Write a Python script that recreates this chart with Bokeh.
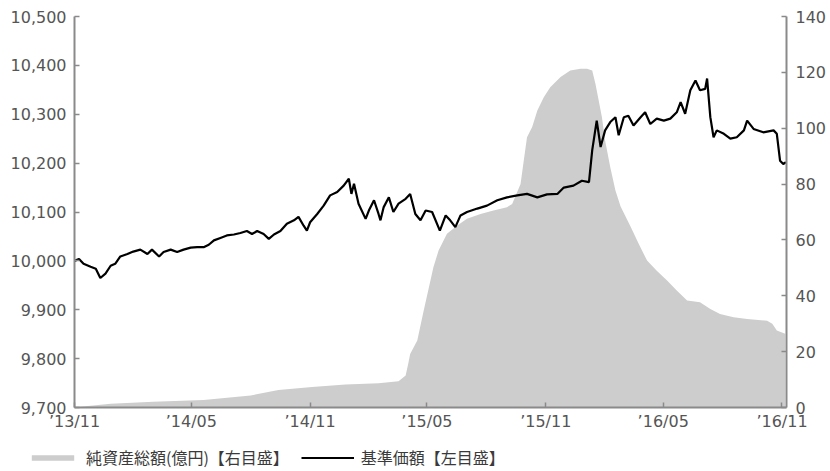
import pandas as pd
from bokeh.plotting import figure
from bokeh.models import (Range1d, LinearAxis, FixedTicker, Legend, LegendItem,
                          NumeralTickFormatter)
from bokeh.embed import file_html
from bokeh.resources import INLINE

# 基準価額 (left axis)
nav_dates = [
    "2013-11-01", "2013-11-08", "2013-11-15", "2013-11-26", "2013-12-04", "2013-12-11",
    "2013-12-19", "2013-12-27", "2014-01-03", "2014-01-11", "2014-01-22", "2014-01-31",
    "2014-02-11", "2014-02-22", "2014-03-01", "2014-03-12", "2014-03-19", "2014-03-30",
    "2014-04-09", "2014-04-19", "2014-04-30", "2014-05-10", "2014-05-20", "2014-05-28",
    "2014-06-05", "2014-06-15", "2014-06-25", "2014-07-06", "2014-07-16", "2014-07-26",
    "2014-08-03", "2014-08-11", "2014-08-21", "2014-08-29", "2014-09-06", "2014-09-16",
    "2014-09-26", "2014-10-07", "2014-10-14", "2014-10-22", "2014-10-27", "2014-11-01",
    "2014-11-12", "2014-11-22", "2014-12-02", "2014-12-13", "2014-12-23", "2014-12-31",
    "2015-01-04", "2015-01-08", "2015-01-15", "2015-01-26", "2015-01-31", "2015-02-08",
    "2015-02-15", "2015-02-18", "2015-02-23", "2015-03-03", "2015-03-10", "2015-03-18",
    "2015-03-29", "2015-04-05", "2015-04-13", "2015-04-21", "2015-04-29", "2015-05-09",
    "2015-05-21", "2015-05-30", "2015-06-06", "2015-06-14", "2015-06-22", "2015-07-02",
    "2015-07-18", "2015-08-02", "2015-08-18", "2015-09-02", "2015-09-18", "2015-10-03",
    "2015-10-19", "2015-11-03", "2015-11-19", "2015-11-29", "2015-12-14", "2015-12-27",
    "2016-01-07", "2016-01-12", "2016-01-19", "2016-01-25", "2016-02-01", "2016-02-09",
    "2016-02-17", "2016-02-22", "2016-03-01", "2016-03-08", "2016-03-16", "2016-03-27",
    "2016-04-03", "2016-04-11", "2016-04-21", "2016-05-02", "2016-05-12", "2016-05-22",
    "2016-05-28", "2016-06-04", "2016-06-12", "2016-06-20", "2016-06-27", "2016-07-05",
    "2016-07-08", "2016-07-13", "2016-07-18", "2016-07-23", "2016-08-03", "2016-08-13",
    "2016-08-23", "2016-09-03", "2016-09-08", "2016-09-18", "2016-10-03", "2016-10-19",
    "2016-10-24", "2016-10-29", "2016-11-03", "2016-11-07",
]
nav_values = [
    10000, 10004, 9994, 9988, 9984, 9965,
    9974, 9990, 9994, 10009, 10014, 10019,
    10023, 10014, 10023, 10009, 10018, 10023,
    10018, 10023, 10027, 10028, 10028, 10033,
    10042, 10047, 10052, 10054, 10057, 10061,
    10055, 10061, 10055, 10045, 10054, 10061,
    10076, 10083, 10090, 10072, 10062, 10079,
    10096, 10113, 10134, 10141, 10154, 10168,
    10137, 10158, 10117, 10086, 10103, 10124,
    10096, 10083, 10110, 10130, 10100, 10117,
    10127, 10137, 10096, 10083, 10103, 10100,
    10062, 10093, 10083, 10069, 10093, 10100,
    10107, 10113, 10124, 10130, 10134, 10137,
    10130, 10136, 10137, 10150, 10154, 10164,
    10161, 10226, 10287, 10233, 10267, 10284,
    10294, 10257, 10294, 10297, 10277, 10294,
    10304, 10280, 10291, 10287, 10291, 10304,
    10325, 10301, 10349, 10369, 10349, 10352,
    10373, 10294, 10253, 10267, 10260, 10250,
    10253, 10267, 10287, 10270, 10263, 10267,
    10260, 10205, 10198, 10202,
]

# 純資産総額(億円) (right axis)
aum_dates = [
    "2013-11-01", "2013-11-10", "2013-12-27", "2014-03-03", "2014-05-20", "2014-08-01",
    "2014-09-13", "2014-11-04", "2014-12-26", "2015-02-15", "2015-03-18", "2015-03-29",
    "2015-04-02", "2015-04-05", "2015-04-16", "2015-04-26", "2015-05-04", "2015-05-11",
    "2015-05-19", "2015-06-01", "2015-06-17", "2015-07-02", "2015-07-23", "2015-08-12",
    "2015-09-02", "2015-09-10", "2015-09-23", "2015-09-28", "2015-10-03", "2015-10-11",
    "2015-10-19", "2015-10-29", "2015-11-08", "2015-11-24", "2015-12-09", "2015-12-25",
    "2016-01-04", "2016-01-12", "2016-01-17", "2016-01-22", "2016-01-27", "2016-02-01",
    "2016-02-09", "2016-02-17", "2016-02-25", "2016-03-11", "2016-03-24", "2016-04-06",
    "2016-04-21", "2016-05-07", "2016-05-22", "2016-06-07", "2016-06-27", "2016-07-13",
    "2016-07-28", "2016-08-18", "2016-09-08", "2016-10-09", "2016-10-17", "2016-10-24",
    "2016-11-06",
]
aum_values = [
    0.0, 0.3, 1.3, 2.1, 2.7, 4.3,
    6.3, 7.3, 8.2, 8.7, 9.4, 11.5,
    15.7, 19.2, 24.0, 34.7, 43.0, 50.2,
    56.2, 62.2, 65.2, 67.6, 69.3, 70.5,
    71.7, 72.9, 80.0, 88.4, 96.8, 100.4,
    106.3, 111.1, 114.7, 118.3, 120.7, 121.3,
    121.3, 120.7, 115.9, 110.0, 104.0, 95.6,
    86.0, 77.7, 72.0, 65.0, 58.6, 52.6,
    49.0, 45.5, 41.9, 38.3, 37.7, 35.3,
    33.5, 32.3, 31.7, 31.1, 30.0, 27.6,
    26.4,
]

x_tick_dates = ["2013-11-01", "2014-05-01", "2014-11-01", "2015-05-01",
                "2015-11-01", "2016-05-01", "2016-11-01"]
x_tick_labels = ["’13/11", "’14/05", "’14/11", "’15/05", "’15/11", "’16/05", "’16/11"]
left_ticks = [9700, 9800, 9900, 10000, 10100, 10200, 10300, 10400, 10500]
right_ticks = [0, 20, 40, 60, 80, 100, 120, 140]
x_start, x_end = "2013-11-01", "2016-11-08"

series_names = ["純資産総額(億円)【右目盛】", "基準価額【左目盛】"]

TICK_FONT = "DejaVu Sans"
FONT = "Noto Sans CJK JP"
AXIS_COLOR = "#8a8a8a"
LABEL_COLOR = "#555555"

# ---- layout (pixels of the plotting box inside the 830x471 canvas) ----
W, H = 830, 471
BOX_L, BOX_R, BOX_T, BOX_B = 74, 786, 16, 407

nav_x = pd.to_datetime(nav_dates)
aum_x = pd.to_datetime(aum_dates)

xs = pd.Timestamp(x_start).value / 1e6
xe = pd.Timestamp(x_end).value / 1e6
kx = (xe - xs) / (BOX_R - BOX_L)
x_range = Range1d(xs - BOX_L * kx, xe + (W - BOX_R) * kx)

def padded(lo, hi):
    k = (hi - lo) / (BOX_B - BOX_T)
    return Range1d(lo - (H - BOX_B) * k, hi + BOX_T * k)

p = figure(width=W, height=H, x_axis_type="datetime",
           x_range=x_range, y_range=padded(left_ticks[0], left_ticks[-1]),
           output_backend="svg", toolbar_location=None,
           min_border_left=0, min_border_right=0, min_border_top=0, min_border_bottom=0)
p.outline_line_color = None
p.grid.grid_line_color = None
p.background_fill_color = "white"
p.border_fill_color = "white"

p.extra_y_ranges = {"aum": padded(right_ticks[0], right_ticks[-1])}

area = p.varea(x=aum_x, y1=0, y2=aum_values, y_range_name="aum",
               fill_color="#cdcdcd", fill_alpha=1.0)
line = p.line(x=nav_x, y=nav_values, line_color="black", line_width=2.2)

right_axis = LinearAxis(y_range_name="aum")
p.add_layout(right_axis, "right")

tick_ms = [int(pd.Timestamp(d).value // 10**6) for d in x_tick_dates]
xaxis = p.xaxis[0]
yaxis = p.yaxis[0]
xaxis.ticker = FixedTicker(ticks=tick_ms)
xaxis.major_label_overrides = {ms: lab for ms, lab in zip(tick_ms, x_tick_labels)}
xaxis.fixed_location = left_ticks[0]
xaxis.bounds = (xs, xe)

yaxis.ticker = FixedTicker(ticks=left_ticks)
yaxis.formatter = NumeralTickFormatter(format="0,0")
yaxis.fixed_location = xs
yaxis.bounds = (left_ticks[0], left_ticks[-1])

right_axis.ticker = FixedTicker(ticks=right_ticks)
right_axis.fixed_location = xe
right_axis.bounds = (right_ticks[0], right_ticks[-1])

for ax in [xaxis, yaxis, right_axis]:
    ax.axis_line_color = AXIS_COLOR
    ax.axis_line_width = 2
    ax.major_tick_line_color = AXIS_COLOR
    ax.major_tick_line_width = 1.5
    ax.major_tick_in = 5
    ax.major_tick_out = 0
    ax.minor_tick_line_color = None
    ax.major_label_text_font = TICK_FONT
    ax.major_label_text_font_size = "16px"
    ax.major_label_text_color = LABEL_COLOR
yaxis.major_label_standoff = 8
right_axis.major_label_standoff = 9
xaxis.major_label_standoff = 4

legend = Legend(items=[LegendItem(label=series_names[0], renderers=[area]),
                       LegendItem(label=series_names[1], renderers=[line])],
                orientation="horizontal", location=(26, 2),
                glyph_width=53, glyph_height=7, label_standoff=7, spacing=12,
                padding=0, margin=0, label_height=20,
                label_text_font=FONT, label_text_font_size="16px",
                label_text_color="#3a3a3a",
                border_line_color=None, background_fill_alpha=0)
p.add_layout(legend)

open("out.html", "w").write(file_html(p, INLINE))
